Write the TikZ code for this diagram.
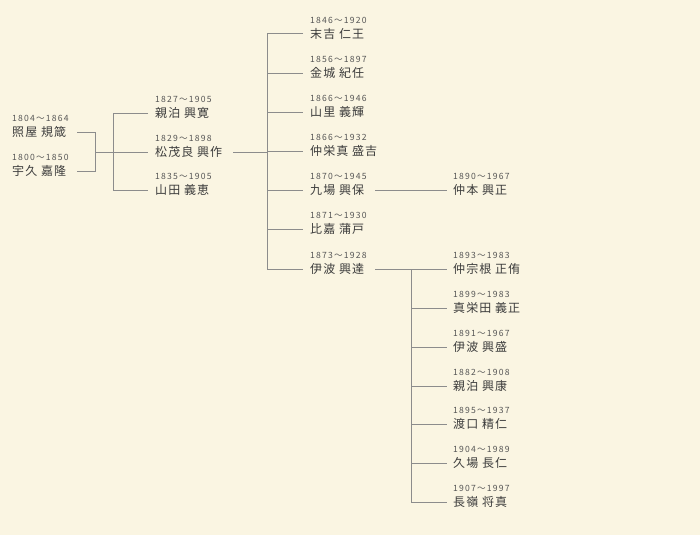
\documentclass[tikz,border=0pt]{standalone}
\usepackage{fontspec}
\newfontfamily\nmfont[LetterSpace=9]{Noto Sans CJK JP}
\newfontfamily\yrfont[LetterSpace=14]{Noto Sans CJK JP}
\definecolor{bgc}{RGB}{250,245,226}
\definecolor{linegray}{RGB}{140,140,140}
\definecolor{namegray}{RGB}{60,60,60}
\definecolor{yeargray}{RGB}{85,85,85}
\newcommand\person[5]{%
  \node[nm] (#1) at (#2,{#3+4.3}) {#4};
  \node[yrs] (#1y) at (#2,{#3-10.4}) {#5};}
\begin{document}
\begin{tikzpicture}[x=1pt,y=-1pt,
  nm/.style={anchor=base west,inner sep=0pt,text=namegray,font=\nmfont\fontsize{12}{12}\selectfont},
  yrs/.style={anchor=base west,inner sep=0pt,text=yeargray,font=\yrfont\fontsize{8.6}{9}\selectfont},
  ln/.style={draw=linegray,line width=1pt}]
\fill[bgc] (0,0) rectangle (700,535);
\useasboundingbox (0,0) rectangle (700,535);
% people
\person{a1}{12}{132}{照屋 規箴}{1804～1864}
\person{a2}{12}{171}{宇久 嘉隆}{1800～1850}
\person{b1}{155}{113}{親泊 興寛}{1827～1905}
\person{b2}{155}{152}{松茂良 興作}{1829～1898}
\person{b3}{155}{190}{山田 義恵}{1835～1905}
\person{c1}{310}{34}{末吉 仁王}{1846～1920}
\person{c2}{310}{73}{金城 紀任}{1856～1897}
\person{c3}{310}{112}{山里 義輝}{1866～1946}
\person{c4}{310}{151}{仲栄真 盛吉}{1866～1932}
\person{c5}{310}{190}{九場 興保}{1870～1945}
\person{c6}{310}{229}{比嘉 蒲戸}{1871～1930}
\person{c7}{310}{269}{伊波 興達}{1873～1928}
\person{d1}{453}{190}{仲本 興正}{1890～1967}
\person{e1}{453}{269}{仲宗根 正侑}{1893～1983}
\person{e2}{453}{308}{真栄田 義正}{1899～1983}
\person{e3}{453}{347}{伊波 興盛}{1891～1967}
\person{e4}{453}{386}{親泊 興康}{1882～1908}
\person{e5}{453}{424}{渡口 精仁}{1895～1937}
\person{e6}{453}{463}{久場 長仁}{1904～1989}
\person{e7}{453}{502}{長嶺 将真}{1907～1997}
% junctions
\coordinate (ja) at (95,132);
\coordinate (jb) at (113,152);
\coordinate (jc) at (267,152);
\coordinate (je) at (411,269);
% generation 1 -> 2
\draw[ln] (77,132) -| (95,171) -- (77,171);
\draw[ln] (95,152) -- (148,152);
\draw[ln] (148,113) -| (113,190) -- (148,190);
% generation 2 -> 3
\draw[ln] (233,152) -- (jc);
\draw[ln] (303,34) -| (267,269) -- (303,269);
\foreach \y in {73,112,151,190,229} \draw[ln] (267,\y) -- (303,\y);
% generation 3 -> 4
\draw[ln] (375,190) -- (447,190);
\draw[ln] (375,269) -- (447,269);
\draw[ln] (je) -- (411,502);
\foreach \y in {308,347,386,424,463,502} \draw[ln] (411,\y) -- (447,\y);
\end{tikzpicture}
\end{document}
